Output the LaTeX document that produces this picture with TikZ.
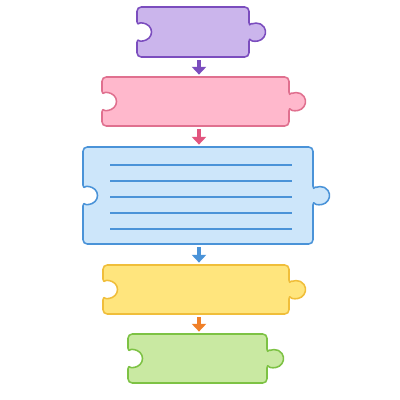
\documentclass[tikz,border=0pt]{standalone}
\usetikzlibrary{arrows.meta,fit}

\definecolor{purplefill}{HTML}{CBB5EC}
\definecolor{purpleline}{HTML}{7B4DBE}
\definecolor{pinkfill}{HTML}{FFB8CC}
\definecolor{pinkline}{HTML}{E0708F}
\definecolor{pinkarrow}{HTML}{E2557F}
\definecolor{bluefill}{HTML}{CDE6FA}
\definecolor{blueline}{HTML}{4A93D8}
\definecolor{yellowfill}{HTML}{FFE57D}
\definecolor{yellowline}{HTML}{F0BE3A}
\definecolor{greenfill}{HTML}{C9E9A2}
\definecolor{greenline}{HTML}{7DC244}
\definecolor{orangearrow}{HTML}{F08028}

% piece: name, style, x1, y1, x2, y2
\newcommand{\puzzlepiece}[6]{%
  \draw[#2,rounded corners=3pt] (#3,#4) -- (#3,{(#4+#6)/2-6})
    arc[start angle=-135,end angle=135,radius=8.5]
    -- (#3,#6) -- (#5,#6) -- (#5,{(#4+#6)/2+5})
    arc[start angle=146.5,end angle=-146.5,radius=9]
    -- (#5,#4) -- cycle;
  \node[fit={(#3,#4) (#5,#6)},inner sep=0pt] (#1) {};
}

\begin{document}
\begin{tikzpicture}
  [x=0.025cm,y=-0.025cm,line join=round,
   piece/.style={line width=1.1pt},
   flow/.style={line width=2.2pt,-{Triangle[length=5.5pt,width=10pt]},shorten <=2pt,shorten >=1.5pt}]

  \useasboundingbox (0,0) rectangle (400,400);

  %%%%%%%%%%%%%%%%%%%%%% PIECES %%%%%%%%%%%%%%%%%%%%%%
  \puzzlepiece{purplepiece}{piece,draw=purpleline,fill=purplefill}{137}{7}{249}{57}
  \puzzlepiece{pinkpiece}{piece,draw=pinkline,fill=pinkfill}{102}{77}{289}{126}
  \puzzlepiece{bluepiece}{piece,draw=blueline,fill=bluefill}{83}{147}{313}{244}
  \puzzlepiece{yellowpiece}{piece,draw=yellowline,fill=yellowfill}{103}{265}{289}{314}
  \puzzlepiece{greenpiece}{piece,draw=greenline,fill=greenfill}{128}{334}{267}{383}

  % ruled lines
  \foreach \ly in {165,181,197,213,229}
    \draw[blueline,line width=0.8pt] (110,\ly) -- (292,\ly);

  %%%%%%%%%%%%%%%%%%%%%% ARROWS %%%%%%%%%%%%%%%%%%%%%%
  \coordinate (axis) at (199,0);
  \draw[flow,purpleline] (purplepiece.south -| axis) -- (pinkpiece.north -| axis);
  \draw[flow,pinkarrow] (pinkpiece.south -| axis) -- (bluepiece.north -| axis);
  \draw[flow,blueline] (bluepiece.south -| axis) -- (yellowpiece.north -| axis);
  \draw[flow,orangearrow] (yellowpiece.south -| axis) -- (greenpiece.north -| axis);
\end{tikzpicture}
\end{document}
